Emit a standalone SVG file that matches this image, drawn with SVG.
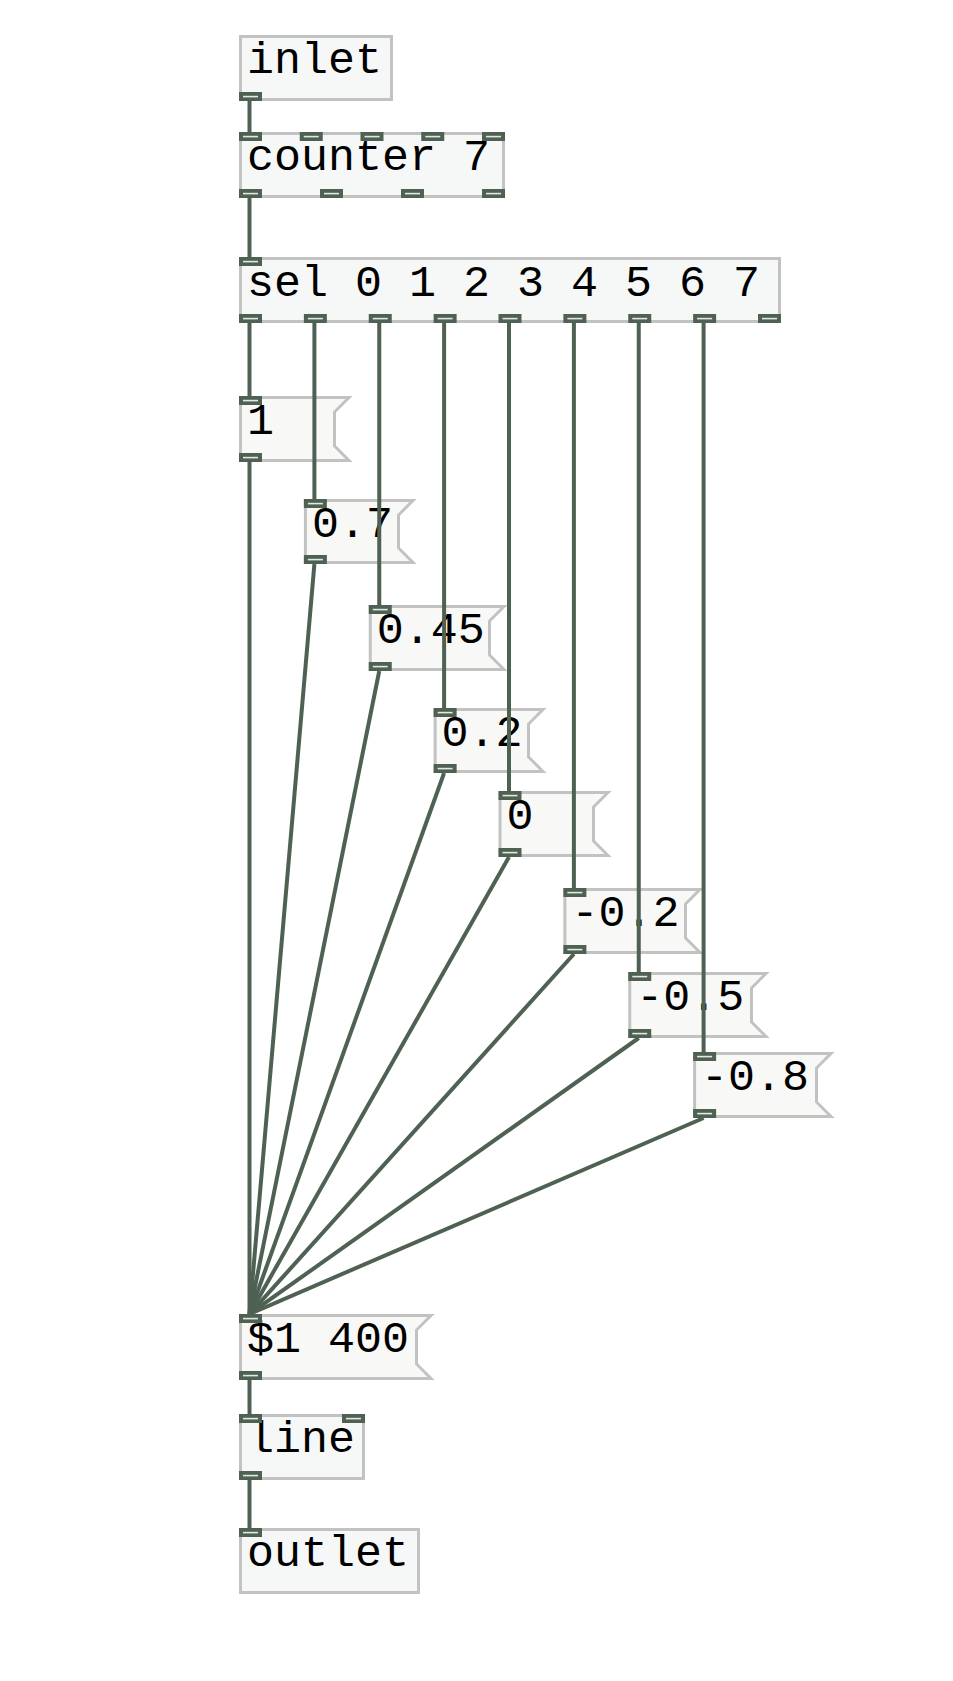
<svg xmlns="http://www.w3.org/2000/svg" xmlns:xlink="http://www.w3.org/1999/xlink" width="953" height="1681" viewBox="0 0 953 1681">
<style>
.obj{fill:#f6f8f8;stroke:#c2c2c2;stroke-width:3}
.msg{fill:#f8f8f6;stroke:#c2c2c2;stroke-width:3}
.t{font-family:"Liberation Mono","DejaVu Sans Mono",monospace;font-size:45px;fill:#000}
.c{stroke:#4f6152;stroke-width:4;fill:none;stroke-linecap:butt}
</style>
<defs>
<g id="port"><rect width="23" height="9" fill="#4f6152"/><rect x="4" y="3.8" width="15" height="1.6" fill="#e2e8e2"/></g>
</defs>
<rect width="953" height="1681" fill="#fff"/>
<g id="n-inlet">
<rect class="obj" x="240.5" y="36.5" width="151" height="63"/>
<text class="t" x="247" y="73">inlet</text>
<use xlink:href="#port" x="239" y="92"/>
</g>
<g id="n-counter">
<rect class="obj" x="240.5" y="133.5" width="263" height="63"/>
<text class="t" x="247" y="170">counter 7</text>
<use xlink:href="#port" x="239" y="132"/><use xlink:href="#port" x="299.75" y="132"/><use xlink:href="#port" x="360.5" y="132"/><use xlink:href="#port" x="421.25" y="132"/><use xlink:href="#port" x="482" y="132"/>
<use xlink:href="#port" x="239" y="189"/><use xlink:href="#port" x="320" y="189"/><use xlink:href="#port" x="401" y="189"/><use xlink:href="#port" x="482" y="189"/>
</g>
<g id="n-sel">
<rect class="obj" x="240.5" y="258.5" width="539" height="63"/>
<text class="t" x="247" y="296">sel 0 1 2 3 4 5 6 7</text>
<use xlink:href="#port" x="239" y="257"/>
<use xlink:href="#port" x="239" y="314"/><use xlink:href="#port" x="303.875" y="314"/><use xlink:href="#port" x="368.75" y="314"/><use xlink:href="#port" x="433.625" y="314"/><use xlink:href="#port" x="498.5" y="314"/><use xlink:href="#port" x="563.375" y="314"/><use xlink:href="#port" x="628.25" y="314"/><use xlink:href="#port" x="693.125" y="314"/><use xlink:href="#port" x="758" y="314"/>
</g>
<g id="m-1">
<polygon class="msg" points="240.5,397.5 349,397.5 334.5,412 334.5,446 349,460.5 240.5,460.5"/>
<text class="t" x="247" y="434">1</text>
<use xlink:href="#port" x="239" y="396"/><use xlink:href="#port" x="239" y="453"/>
</g>
<g id="m-07">
<polygon class="msg" points="305.4,500.5 413,500.5 398.5,515 398.5,548 413,562.5 305.4,562.5"/>
<text class="t" x="311.9" y="537">0.7</text>
<use xlink:href="#port" x="303.875" y="499"/><use xlink:href="#port" x="303.875" y="555"/>
</g>
<g id="m-045">
<polygon class="msg" points="370.25,606.5 504,606.5 489.5,621 489.5,655 504,669.5 370.25,669.5"/>
<text class="t" x="376.75" y="643">0.45</text>
<use xlink:href="#port" x="368.75" y="605"/><use xlink:href="#port" x="368.75" y="662"/>
</g>
<g id="m-02">
<polygon class="msg" points="435.1,709.5 543,709.5 528.5,724 528.5,757 543,771.5 435.1,771.5"/>
<text class="t" x="441.6" y="746">0.2</text>
<use xlink:href="#port" x="433.625" y="708"/><use xlink:href="#port" x="433.625" y="764"/>
</g>
<g id="m-0">
<polygon class="msg" points="500,792.5 608,792.5 593.5,807 593.5,841 608,855.5 500,855.5"/>
<text class="t" x="506.5" y="829">0</text>
<use xlink:href="#port" x="498.5" y="791"/><use xlink:href="#port" x="498.5" y="848"/>
</g>
<g id="m-n02">
<polygon class="msg" points="564.9,889.5 700,889.5 685.5,904 685.5,938 700,952.5 564.9,952.5"/>
<text class="t" x="571.4" y="926">-0.2</text>
<use xlink:href="#port" x="563.375" y="888"/><use xlink:href="#port" x="563.375" y="945"/>
</g>
<g id="m-n05">
<polygon class="msg" points="629.75,973.5 766,973.5 751.5,988 751.5,1022 766,1036.5 629.75,1036.5"/>
<text class="t" x="636.25" y="1010">-0.5</text>
<use xlink:href="#port" x="628.25" y="972"/><use xlink:href="#port" x="628.25" y="1029"/>
</g>
<g id="m-n08">
<polygon class="msg" points="694.6,1053.5 831,1053.5 816.5,1068 816.5,1102 831,1116.5 694.6,1116.5"/>
<text class="t" x="701.1" y="1090">-0.8</text>
<use xlink:href="#port" x="693.125" y="1052"/><use xlink:href="#port" x="693.125" y="1109"/>
</g>
<g id="m-line">
<polygon class="msg" points="240.5,1315.5 431,1315.5 416.5,1330 416.5,1364 431,1378.5 240.5,1378.5"/>
<text class="t" x="247" y="1352">$1 400</text>
<use xlink:href="#port" x="239" y="1314"/><use xlink:href="#port" x="239" y="1371"/>
</g>
<g id="n-line">
<rect class="obj" x="240.5" y="1415.5" width="123" height="63"/>
<text class="t" x="247" y="1452">line</text>
<use xlink:href="#port" x="239" y="1414"/><use xlink:href="#port" x="342" y="1414"/>
<use xlink:href="#port" x="239" y="1471"/>
</g>
<g id="n-outlet">
<rect class="obj" x="240.5" y="1529.5" width="178" height="63"/>
<text class="t" x="247" y="1566">outlet</text>
<use xlink:href="#port" x="239" y="1528"/>
</g>
<g id="connectors">
<line class="c" x1="249.5" y1="101" x2="249.5" y2="132"/>
<line class="c" x1="249.5" y1="198" x2="249.5" y2="257"/>
<line class="c" x1="249.5" y1="323" x2="249.5" y2="396"/>
<line class="c" x1="314.4" y1="323" x2="314.4" y2="499"/>
<line class="c" x1="379.25" y1="323" x2="379.25" y2="605"/>
<line class="c" x1="444.1" y1="323" x2="444.1" y2="708"/>
<line class="c" x1="509" y1="323" x2="509" y2="791"/>
<line class="c" x1="573.9" y1="323" x2="573.9" y2="888"/>
<line class="c" x1="638.75" y1="323" x2="638.75" y2="972"/>
<line class="c" x1="703.6" y1="323" x2="703.6" y2="1052"/>
<line class="c" x1="249.5" y1="462" x2="249.5" y2="1314"/>
<line class="c" x1="314.4" y1="564" x2="249.5" y2="1314"/>
<line class="c" x1="379.25" y1="671" x2="249.5" y2="1314"/>
<line class="c" x1="444.1" y1="773" x2="249.5" y2="1314"/>
<line class="c" x1="509" y1="857" x2="249.5" y2="1314"/>
<line class="c" x1="573.9" y1="954" x2="249.5" y2="1314"/>
<line class="c" x1="638.75" y1="1038" x2="249.5" y2="1314"/>
<line class="c" x1="703.6" y1="1118" x2="249.5" y2="1314"/>
<line class="c" x1="249.5" y1="1380" x2="249.5" y2="1414"/>
<line class="c" x1="249.5" y1="1480" x2="249.5" y2="1528"/>
</g>
</svg>
